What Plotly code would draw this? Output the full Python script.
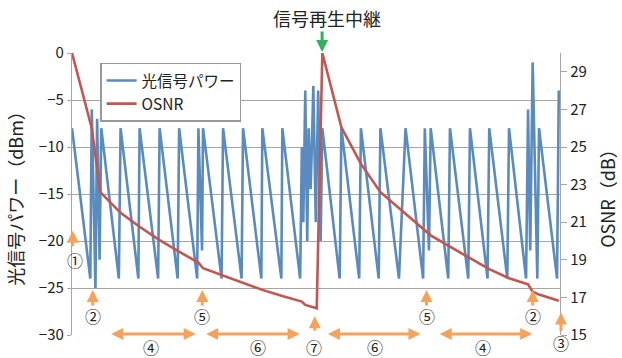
import plotly.graph_objects as go

# Optical signal power along the link (distance in km, power in dBm)
power_km = [0, 75, 81, 96, 103, 113, 120, 192, 199, 272, 277, 353, 359, 433, 439,
            513, 518, 533, 537, 613, 619, 695, 701, 776, 780, 858, 862, 935,
            942, 948, 956, 964, 970, 978, 983, 989, 999, 1009, 1019, 1026,
            1097, 1104, 1177, 1184, 1257, 1264, 1340, 1367, 1439, 1446, 1463, 1470,
            1542, 1549, 1624, 1631, 1703, 1710, 1784, 1791, 1861, 1869, 1878, 1888,
            1907, 1914, 1988, 1995]
power_dbm = [-8, -24, -6, -25, -7, -22, -8, -24, -8, -24, -8, -24, -8, -24, -8,
             -24, -8, -21, -8, -24, -8, -24, -8, -24, -8, -24, -8, -24,
             -10, -18, -4, -20, -8, -14.5, -10, -3.5, -18, -4, -20, -8,
             -24, -8, -24, -8, -24, -8, -24, -8, -24, -8, -21, -8,
             -24, -8, -24, -8, -24, -8, -24, -8, -24, -6, -21, -1,
             -24, -8, -24, -4]

# OSNR after each node (km, dB)
osnr_km = [0, 81, 116, 199, 277, 359, 439, 518, 537, 619, 701, 780, 862, 942,
           956, 1003, 1026, 1104, 1184, 1264, 1367, 1446, 1470, 1549, 1631,
           1710, 1791, 1869, 1888, 1914, 1995]
osnr_db = [30.0, 26.0, 22.6, 21.5, 20.76, 20.05, 19.43, 18.85, 18.55, 18.15,
           17.75, 17.4, 17.07, 16.78, 16.6, 16.42, 30.0, 26.05, 24.1, 22.6,
           21.45, 20.6, 20.3, 19.7, 19.08, 18.5, 18.02, 17.7, 17.3, 17.15, 16.82]

X_RANGE = [0, 2000]
Y_RANGE = [-30, 0]

BLUE = "#5a8bbf"
RED = "#c4564f"
ORANGE = "#f5a35c"
GREEN = "#2fb35a"
GRID = "#a6a6a6"
FONT = "Noto Sans CJK JP"

fig = go.Figure()
fig.add_trace(go.Scatter(x=power_km, y=power_dbm, mode="lines", name="光信号パワー",
                         line=dict(color=BLUE, width=2.6)))
fig.add_trace(go.Scatter(x=osnr_km, y=osnr_db, mode="lines", name="OSNR",
                         line=dict(color=RED, width=2.6), yaxis="y2"))

fig.update_layout(
    width=622, height=358,
    margin=dict(l=72, r=62, t=53, b=23),
    paper_bgcolor="white", plot_bgcolor="white",
    font=dict(family=FONT, size=15, color="#222"),
    showlegend=True,
    legend=dict(x=0.058, y=0.966, xanchor="left", yanchor="top",
                bgcolor="white", bordercolor="#999", borderwidth=1.3,
                font=dict(size=15.5, color="#222"), tracegroupgap=0),
    xaxis=dict(range=X_RANGE, showgrid=False, zeroline=False, showticklabels=False,
               ticks="", showline=False),
    yaxis=dict(range=Y_RANGE, tickvals=[-30, -25, -20, -15, -10, -5, 0],
               showgrid=True, gridcolor=GRID, gridwidth=1.3, zeroline=False,
               showline=True, linecolor=GRID, linewidth=1.3,
               ticks="outside", ticklen=4, tickcolor=GRID, tickwidth=1.3,
               tickfont=dict(size=15), automargin=False,
               title=dict(text="光信号パワー（dBm）", font=dict(size=18), standoff=10)),
    yaxis2=dict(range=[15, 30], tickvals=[15, 17, 19, 21, 23, 25, 27, 29],
                overlaying="y", side="right", showgrid=False, zeroline=False,
                showline=True, linecolor=GRID, linewidth=1.3,
                ticks="outside", ticklen=6, tickcolor=GRID, tickwidth=1.3,
                tickfont=dict(size=15), automargin=False,
                title=dict(text="OSNR（dB）", font=dict(size=18), standoff=16)),
)


def px(km):
    return (km - X_RANGE[0]) / (X_RANGE[1] - X_RANGE[0])


def py(dbm):
    return (dbm - Y_RANGE[0]) / (Y_RANGE[1] - Y_RANGE[0])


ann = []


def arrow(km, dbm, dx, dy, color=ORANGE, both=False):
    a = dict(x=px(km), y=py(dbm), xref="paper", yref="paper", ax=dx, ay=dy,
             xanchor="center", yanchor="middle",
             text="", showarrow=True, arrowhead=2, arrowsize=0.8, arrowwidth=3,
             arrowcolor=color)
    if both:
        a.update(arrowside="end+start", startarrowhead=2, startarrowsize=0.8)
    ann.append(a)


def label(km, dbm, s, size=16):
    ann.append(dict(x=px(km), y=py(dbm), xref="paper", yref="paper", text=s,
                    xanchor="center", yanchor="middle", borderpad=0,
                    showarrow=False, font=dict(size=size, color="#222")))


# markers along the link (arrow tip position, tail offset in pixels)
arrow(3, -18.9, 0, 17)
label(14, -22.0, "①")
arrow(85, -25.2, 0, 17)
label(87, -28.0, "②")
arrow(534, -25.2, 0, 17)
label(534, -28.0, "⑤")
arrow(507, -29.9, -86, 0, both=True)
label(322, -31.25, "④")
arrow(933, -29.9, -95, 0, both=True)
label(762, -31.25, "⑥")
arrow(995, -28.0, 0, 16)
label(991, -31.25, "⑦")
arrow(1428, -29.9, -94, 0, both=True)
label(1241, -31.25, "⑥")
arrow(1453, -25.2, 0, 17)
label(1453, -28.0, "⑤")
arrow(1886, -29.9, -94, 0, both=True)
label(1685, -31.25, "④")
arrow(1888, -25.2, 0, 17)
label(1888, -28.0, "②")
arrow(2004, -27.6, 0, 20)
label(2004, -30.8, "③")

# regeneration point
arrow(1025, 0.1, 0, -22, color=GREEN)
label(1045, 3.7, "信号再生中継", size=18)

fig.update_layout(annotations=ann)
fig.write_html("out.html")
